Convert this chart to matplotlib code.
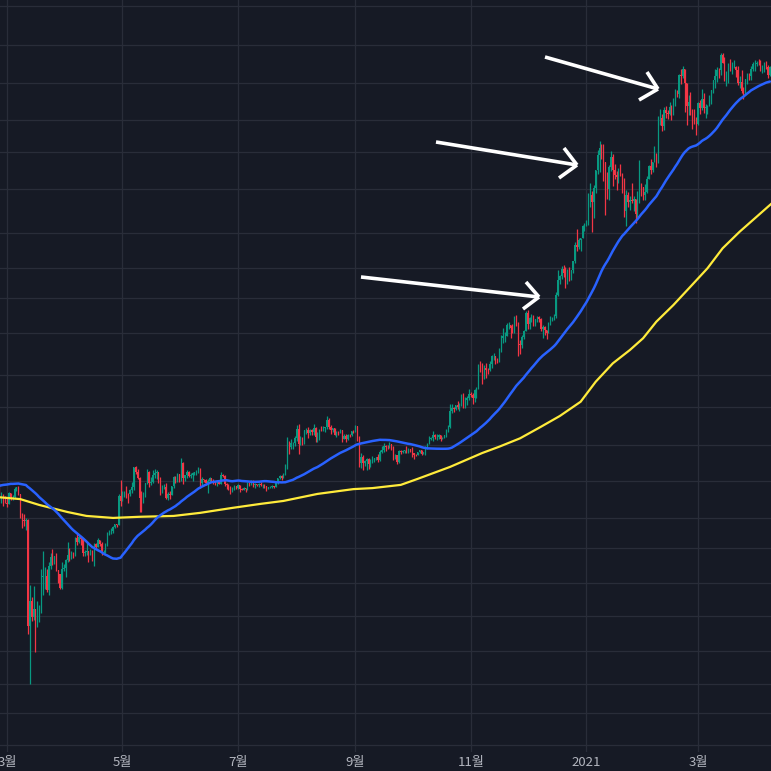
import numpy as np
import pandas as pd
import matplotlib
matplotlib.use("Agg")
import matplotlib.pyplot as plt
import matplotlib.dates as mdates
from matplotlib.lines import Line2D

plt.rcParams['font.family'] = ['Noto Sans CJK KR', 'DejaVu Sans']

# ---------------- data ----------------
# closes before the visible window (2020-01-07 .. 2020-02-25), used for the 50-day average
hist_close = [8160, 8040, 7820, 8190, 8020, 8180, 8110, 8810, 8820, 8720, 8900, 8900, 8630, 8630, 8720,
              8660, 8380, 8430, 8330, 8590, 8900, 9390, 9280, 9500, 9340,
              9380, 9330, 9290, 9180, 9610, 9750, 9800, 9900, 10160, 9850, 10260, 10350, 10240, 10370,
              9890, 9930, 9700, 10180, 9600, 9610, 9690, 9670, 9960, 9660, 9310]

start_date = "2020-02-26"
first_open = 9310

close = [
    # Feb 26-29 2020
    8790, 8810, 8710, 8540,
    # Mar 2020
    8520, 8910, 8760, 8760, 9070, 9160, 8900, 8030, 7940, 7890, 7940, 4970, 5560, 5180, 5360, 5010,
    5330, 5410, 6180, 6190, 6190, 5830, 6480, 6740, 6690, 6760, 6370, 6250, 5880, 6400, 6420,
    # Apr 2020
    6640, 6800, 6740, 6860, 6780, 7330, 7200, 7370, 7300, 6860, 6890, 6910, 6860, 6880, 6630,
    7120, 7040, 7260, 7130, 6860, 6870, 7130, 7490, 7510, 7540, 7700, 7780, 7760, 8790, 8630,
    # May 2020
    8830, 8970, 8900, 8880, 9030, 9150, 9990, 9810, 9540, 8730, 8560, 8810, 9310, 9780, 9320, 9380,
    9680, 9730, 9780, 9510, 9060, 9170, 9180, 8720, 8900, 8840, 9200, 9580, 9420, 9700, 9450,
    # Jun 2020
    10200, 9520, 9670, 9790, 9620, 9670, 9750, 9780, 9780, 9880, 9320, 9480, 9470, 9340, 9430,
    9520, 9460, 9390, 9300, 9360, 9290, 9680, 9630, 9290, 9250, 9160, 9010, 9110, 9190, 9140,
    # Jul 2020
    9240, 9090, 9060, 9130, 9080, 9340, 9250, 9430, 9240, 9290, 9230, 9300, 9240, 9260, 9190, 9130,
    9150, 9170, 9210, 9160, 9390, 9530, 9610, 9550, 9710, 9930, 11030, 10910, 11100, 11110, 11350,
    # Aug 2020
    11800, 11070, 11230, 11190, 11750, 11770, 11600, 11750, 11680, 11880, 11400, 11580, 11780, 11770,
    11860, 11910, 12290, 11950, 11750, 11860, 11520, 11680, 11650, 11750, 11330, 11460, 11330, 11540,
    11500, 11700, 11680,
    # Sep 2020
    11970, 11400, 10170, 10470, 10170, 10280, 10370, 10130, 10230, 10350, 10400, 10440, 10330, 10680,
    10790, 10950, 10940, 10930, 11080, 10920, 10420, 10540, 10240, 10740, 10690, 10730, 10770, 10710,
    10840, 10780,
    # Oct 2020
    10620, 10570, 10550, 10670, 10790, 10600, 10670, 10920, 11060, 11300, 11380, 11540, 11430, 11430,
    11500, 11320, 11370, 11510, 11750, 11920, 12820, 12980, 12930, 13120, 13030, 13070, 13650, 13280,
    13460, 13560, 13800,
    # Nov 2020
    13760, 13550, 14030, 14150, 15590, 15580, 14840, 15480, 15330, 15310, 15700, 16280, 16320, 16070,
    15960, 16720, 17660, 17800, 17820, 18680, 18700, 18420, 18370, 19160, 18720, 17150, 17140, 17720,
    18180, 19700,
    # Dec 2020
    18760, 19220, 19420, 18650, 19150, 19360, 19170, 18320, 18550, 18250, 18030, 18800, 19170, 19270,
    19440, 21310, 22800, 23140, 23870, 23480, 22740, 23820, 23240, 23730, 24710, 26490, 26280, 27080,
    27360, 28890, 28980,
    # Jan 2021
    29370, 32190, 33000, 32020, 34050, 36860, 39490, 40670, 40240, 38240, 35540, 34010, 37390, 39150,
    36830, 36070, 35790, 36630, 36070, 35050, 30830, 33010, 32100, 32290, 32260, 32470, 30430, 33470,
    34320, 34270, 33110,
    # Feb 2021
    33520, 35510, 37620, 36940, 38290, 39260, 38900, 46200, 46480, 44840, 47990, 47380, 47230, 48580,
    47940, 49130, 52120, 51600, 55910, 55840, 57410, 54200, 48880, 49710, 47060, 46280, 46110, 45140,
    # Mar 2021
    49590, 48440, 50350, 48370, 48760, 48880, 50970, 52380, 54880, 55870, 57330, 57220, 61190, 59000,
    55640, 56430, 58930, 57650, 58030, 58100, 57350, 54080, 54340, 52300, 51320, 55030, 55820, 55780,
    57630, 58730, 58920,
    # Apr 1-8 2021
    59100, 58970, 57080, 58210, 59120, 58020, 55950, 58080,
]

high = [
    9330, 8980, 8900, 8800,
    8750, 8970, 8920, 8850, 9150, 9170, 9190, 8900, 8170, 8150, 7980, 7960, 5970, 5640, 5940, 5370,
    5560, 5450, 6400, 6910, 6460, 6400, 6600, 6850, 6970, 6780, 6870, 6290, 6250, 6600, 6520,
    6680, 7190, 7000, 6930, 6880, 7350, 7450, 7420, 7380, 7310, 6960, 7180, 6920, 6990, 6940,
    7180, 7150, 7310, 7270, 7210, 6960, 7160, 7520, 7600, 7640, 7710, 7800, 7790, 8900, 9460,
    9000, 9000, 9190, 8940, 9090, 9370, 10000, 10050, 9900, 9570, 9020, 8950, 9330, 9930, 9840, 9560,
    9880, 9930, 9880, 9800, 9560, 9260, 9300, 9310, 8970, 9010, 9220, 9620, 9600, 9740, 9700,
    10400, 10230, 9680, 9880, 9850, 9730, 9800, 9800, 9880, 9990, 9950, 9560, 9500, 9480, 9500,
    9580, 9540, 9480, 9410, 9400, 9430, 9770, 9690, 9680, 9330, 9290, 9200, 9180, 9230, 9200,
    9300, 9260, 9120, 9180, 9140, 9360, 9360, 9470, 9440, 9320, 9300, 9340, 9350, 9280, 9270, 9210,
    9180, 9200, 9230, 9220, 9420, 9540, 9640, 9640, 9740, 10130, 11400, 11240, 11340, 11160, 11450,
    12010, 12100, 11470, 11420, 11790, 11900, 11920, 11800, 11810, 12070, 11950, 11660, 11800, 11990,
    11980, 11930, 12500, 12390, 12010, 11870, 11890, 11700, 11700, 11820, 11780, 11550, 11590, 11560,
    11580, 11720, 11790,
    12060, 11960, 11450, 10620, 10570, 10300, 10400, 10420, 10350, 10480, 10420, 10470, 10580, 10790,
    10950, 11100, 11040, 11040, 11180, 11080, 10990, 10580, 10540, 10770, 10760, 10780, 10800, 10950,
    10860, 10850,
    10920, 10650, 10600, 10680, 10800, 10800, 10690, 10950, 11100, 11490, 11430, 11730, 11550, 11560,
    11560, 11540, 11410, 11520, 11830, 12020, 13200, 13180, 13020, 13160, 13350, 13250, 13790, 13850,
    13620, 13660, 14100,
    13900, 13830, 14070, 14240, 15760, 15960, 15770, 15650, 15830, 15470, 15950, 16340, 16480, 16320,
    16150, 16880, 17860, 18470, 18130, 18800, 18960, 18700, 18770, 19400, 19490, 18900, 17450, 17850,
    18300, 19850,
    19920, 19310, 19580, 19520, 19170, 19420, 19420, 19290, 18640, 18570, 18270, 18950, 19410, 19350,
    19570, 21560, 23770, 23280, 24170, 24280, 24080, 23840, 24120, 23790, 24790, 26870, 28420, 27420,
    27370, 29020, 29300,
    29600, 33300, 34800, 33600, 34500, 36940, 40380, 41950, 41360, 41350, 38300, 36600, 37800, 40100,
    39600, 37900, 36800, 37300, 37850, 36400, 35600, 33800, 33500, 32900, 34800, 32900, 32500, 33700,
    38500, 34900, 34300,
    34700, 35900, 37700, 38700, 38300, 40950, 39700, 46700, 48200, 47300, 48600, 48900, 48100, 49700,
    49000, 50600, 52600, 52500, 56300, 57500, 58350, 57500, 54200, 51300, 52000, 48200, 48300, 46600,
    49800, 50200, 52600, 51700, 49400, 49200, 51400, 52400, 54900, 57400, 58000, 57900, 61700, 61600,
    60600, 56900, 58950, 60100, 59400, 59800, 58400, 58400, 55800, 57200, 53200, 55100, 56600, 56500,
    58400, 59400, 59800,
    59500, 60200, 59800, 58500, 59300, 59500, 58600, 58200,
]

low = [
    8640, 8540, 8440, 8530,
    8410, 8500, 8660, 8660, 8750, 8990, 8850, 8010, 7640, 7730, 7590, 4800, 3850, 5090, 5100, 4440,
    4960, 5060, 5270, 5700, 5860, 5770, 5700, 6390, 6500, 6540, 6330, 6020, 5860, 5860, 6340,
    6180, 6600, 6620, 6670, 6700, 6780, 7090, 7150, 7110, 6780, 6770, 6800, 6600, 6800, 6620,
    6470, 6980, 7030, 7070, 6800, 6830, 6850, 7080, 7420, 7440, 7490, 7650, 7680, 7750, 8430,
    8630, 8760, 8720, 8560, 8790, 8940, 9050, 9710, 9510, 8200, 8210, 8530, 8780, 9270, 9150, 9240,
    9330, 9530, 9480, 9310, 8830, 8930, 9090, 8710, 8640, 8700, 8840, 9110, 9330, 9360, 9380,
    9420, 9280, 9390, 9530, 9580, 9550, 9400, 9640, 9680, 9730, 9120, 9260, 9360, 9250, 8940,
    9380, 9370, 9300, 9230, 9200, 9280, 9290, 9590, 9220, 9100, 9060, 8880, 8950, 9050, 9080,
    9090, 8950, 9040, 9050, 8960, 9060, 9200, 9230, 9150, 9140, 9190, 9170, 9200, 9120, 9140, 9010,
    9100, 9130, 9120, 9140, 9150, 9280, 9480, 9470, 9540, 9660, 9940, 10580, 10840, 10830, 10990,
    11220, 10600, 11010, 11000, 11090, 11560, 11350, 11530, 11520, 11520, 11150, 11160, 11280, 11700,
    11700, 11690, 11840, 11820, 11570, 11670, 11500, 11400, 11520, 11600, 11150, 11300, 11150, 11290,
    11430, 11480, 11600,
    11680, 11200, 10000, 9980, 9880, 10030, 9880, 9900, 10010, 10200, 10210, 10320, 10220, 10260,
    10630, 10690, 10750, 10820, 10890, 10770, 10300, 10360, 10140, 10200, 10580, 10650, 10640, 10640,
    10650, 10670,
    10450, 10380, 10510, 10530, 10630, 10540, 10580, 10530, 10820, 11060, 11280, 11230, 11300, 11270,
    11300, 11220, 11310, 11350, 11410, 11690, 11900, 12700, 12730, 12880, 12900, 12800, 13060, 12950,
    12990, 13150, 13430,
    13620, 13220, 13300, 13540, 14100, 15210, 14400, 14720, 14810, 15080, 15280, 15430, 15990, 15710,
    15800, 15880, 16560, 17220, 17350, 17760, 18320, 17610, 18000, 18030, 18570, 16330, 16470, 16880,
    17540, 18180,
    18330, 18330, 18920, 18580, 18600, 18920, 18900, 18200, 17650, 17910, 17570, 18020, 18710, 19000,
    19050, 19280, 21250, 22350, 22820, 23080, 22000, 22350, 22700, 22710, 23470, 24520, 25860, 26090,
    25900, 27320, 28200,
    28800, 29000, 31400, 28130, 29900, 33400, 36300, 36600, 38720, 35110, 30300, 32500, 32400, 36700,
    34400, 35400, 33850, 34800, 35900, 33400, 30070, 28800, 31400, 30900, 31900, 30800, 29300, 30000,
    31900, 32900, 32300,
    32300, 33400, 35400, 36200, 36600, 38200, 37400, 37990, 45000, 43800, 44000, 46300, 46200, 47000,
    46000, 47000, 48900, 50900, 50700, 53900, 55300, 47600, 45000, 47000, 46900, 44200, 45100, 43000,
    45000, 47100, 48100, 47500, 46300, 47100, 48900, 49300, 51800, 53000, 54300, 55200, 56100, 59000,
    54600, 53300, 54200, 57000, 56300, 57900, 55500, 53700, 53000, 51700, 50400, 51300, 53900, 54700,
    54900, 57100, 56900,
    58400, 58500, 57000, 56500, 56800, 57600, 55400, 55800,
]

# 200-day average line (date, value)
ma200_dates = ["2020-02-26", "2020-03-08", "2020-03-18", "2020-04-02", "2020-04-12", "2020-04-26",
               "2020-05-10", "2020-05-28", "2020-06-11", "2020-06-28", "2020-07-13", "2020-07-25",
               "2020-08-12", "2020-08-31", "2020-09-10", "2020-09-25", "2020-10-04", "2020-10-21",
               "2020-11-07", "2020-11-16", "2020-11-27", "2020-12-08", "2020-12-18", "2020-12-29",
               "2021-01-06", "2021-01-15", "2021-01-24", "2021-01-31", "2021-02-07", "2021-02-16",
               "2021-02-25", "2021-03-06", "2021-03-14", "2021-03-23", "2021-04-01", "2021-04-09"]
ma200_values = [8760, 8690, 8470, 8210, 8070, 8000,
                8040, 8070, 8180, 8360, 8510, 8620,
                8890, 9080, 9120, 9250, 9500, 10010,
                10640, 10940, 11350, 11940, 12520, 13330,
                14560, 15780, 16730, 17620, 18950, 20390,
                22100, 23960, 26160, 28140, 30060, 31880]

month_ticks = ["2020-03-01", "2020-05-01", "2020-07-01", "2020-09-01", "2020-11-01", "2021-01-01", "2021-03-01"]
month_labels = ["3월", "5월", "7월", "9월", "11월", "2021", "3월"]

price_grid = [76000, 64000, 54000, 46000, 40000, 34000, 28000, 24000, 21000, 18000, 15000, 13000,
              11000, 9400, 8000, 7000, 6000, 5200, 4450, 3850, 3400, 2950]

# ---------------- styling ----------------
BG = "#161a25"
GRID = "#292d39"
UP = "#089981"
DOWN = "#f23645"
BLUE = "#2962ff"
YELLOW = "#ffeb3b"
LABEL = "#b2b5be"

n = min(len(close), len(high), len(low))
c = np.array(close[:n], dtype=float)
h = np.array(high[:n], dtype=float)
l = np.array(low[:n], dtype=float)
o = np.concatenate([[first_open], c[:-1]])
h = np.maximum(h, np.maximum(o, c))
l = np.minimum(l, np.minimum(o, c))
dates = pd.date_range(start_date, periods=n, freq="D")
x = mdates.date2num(dates)

all_close = pd.Series(list(hist_close) + list(c))
ma50 = all_close.rolling(50).mean().to_numpy()[len(hist_close):]

fig = plt.figure(figsize=(7.71, 7.71), dpi=100, facecolor=BG)
ax = fig.add_axes([0, 19 / 771, 1, 752 / 771], facecolor=BG)
ax.set_yscale("log")

up = c >= o
colors = np.where(up, UP, DOWN)
ax.vlines(x, l, h, colors=colors, linewidth=0.9, zorder=3)
ax.bar(x, np.abs(c - o), bottom=np.minimum(o, c), width=0.6, color=colors, linewidth=0, zorder=3)

ax.plot(x, ma50, color=BLUE, linewidth=1.8, zorder=5, solid_capstyle="round")
ax.plot(mdates.date2num(pd.to_datetime(ma200_dates)), ma200_values, color=YELLOW, linewidth=1.6,
        zorder=4, solid_joinstyle="round")

left = mdates.date2num(pd.Timestamp("2020-03-01")) - 7 / 1.893
right = mdates.date2num(pd.Timestamp("2021-03-01")) + (771 - 698) / 1.893
ax.set_xlim(left, right)
ax.set_ylim(2860, 77900)

ax.set_xticks(mdates.date2num(pd.to_datetime(month_ticks)))
ax.set_xticklabels(month_labels)
ax.set_yticks(price_grid)
ax.yaxis.set_minor_locator(matplotlib.ticker.NullLocator())
ax.tick_params(axis="x", length=0, pad=3, colors=LABEL, labelsize=9.5)
ax.tick_params(axis="y", length=0, labelleft=False, left=False)
ax.grid(True, color=GRID, linewidth=0.9, zorder=0)
ax.set_axisbelow(True)
for s in ax.spines.values():
    s.set_visible(False)

# arrows (figure pixel coordinates, origin top-left)
arrows = [
    ((361, 277), (539, 297), (526, 282), (523, 309)),
    ((436, 142), (577, 165), (564, 148), (559, 178)),
    ((545, 57), (658, 89), (647, 72), (639, 100)),
]
def fpt(p):
    return (p[0] / 771, 1 - p[1] / 771)
for start, tip, a1, a2 in arrows:
    for seg in [(start, tip), (a1, tip), (a2, tip)]:
        p0, p1 = fpt(seg[0]), fpt(seg[1])
        fig.add_artist(Line2D([p0[0], p1[0]], [p0[1], p1[1]], transform=fig.transFigure,
                              color="white", linewidth=2.6, solid_capstyle="butt", zorder=10))

fig.savefig("out.png", dpi=100, facecolor=BG)
